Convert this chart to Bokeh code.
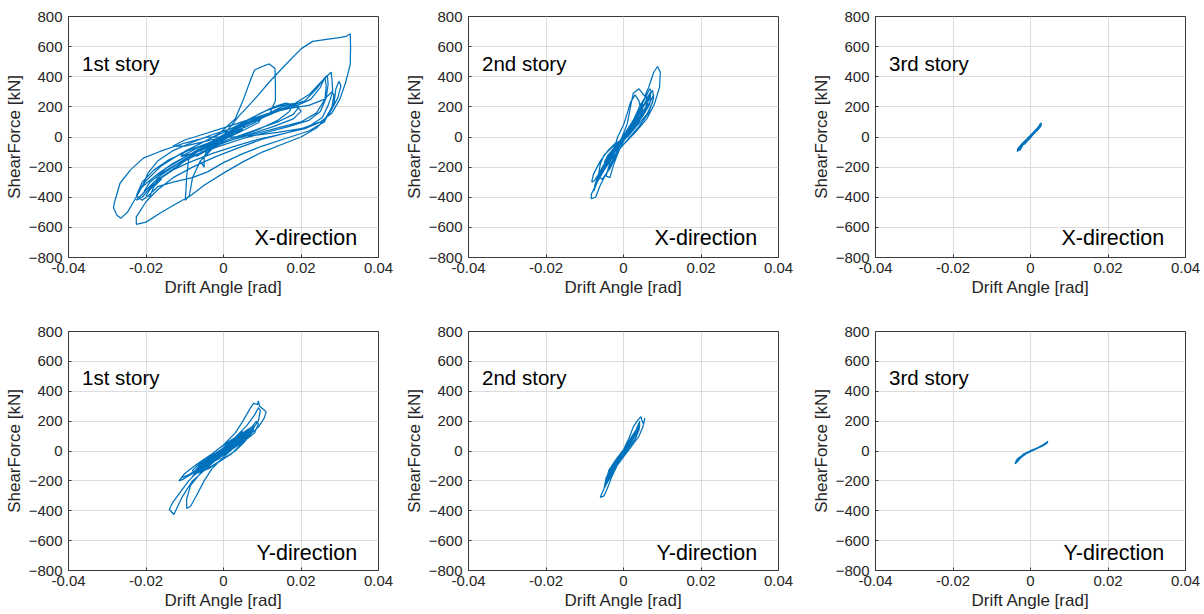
from bokeh.plotting import figure
from bokeh.layouts import column, row
from bokeh.models import FixedTicker, CustomJSTickFormatter, Label
from bokeh.embed import file_html
from bokeh.resources import INLINE

# ---------------- data ----------------
x_ticks = [-0.04, -0.02, 0, 0.02, 0.04]
y_ticks = [-800, -600, -400, -200, 0, 200, 400, 600, 800]
x_label = "Drift Angle [rad]"
y_label = "ShearForce [kN]"

# 1st story, X-direction
drift_1x = [
    0.000, 0.003, 0.006, 0.005, 0.001, -0.003, -0.006, -0.005, -0.001, 0.004,
    0.008, 0.010, 0.009, 0.004, -0.002, -0.007, -0.011, -0.010, -0.005, 0.000,
    0.006, 0.011, 0.015, 0.018, 0.0195, 0.018, 0.014, 0.008, 0.002, -0.004,
    -0.009, -0.013, -0.017, -0.0205, -0.0215, -0.020, -0.016, -0.011, -0.006, -0.001,
    0.003, 0.005, 0.007, 0.008, 0.010, 0.0118, 0.0133, 0.0134, 0.0134, 0.012,
    0.008, 0.003, -0.002, -0.006, -0.009, -0.0095, -0.0097, -0.0099, -0.0088, -0.008,
    -0.006, -0.003, 0.000, 0.004, 0.008, 0.012, 0.016, 0.020, 0.023, 0.027,
    0.030, 0.0318, 0.0327, 0.0328, 0.0327, 0.0315, 0.030, 0.028, 0.025, 0.020,
    0.014, 0.008, 0.002, -0.004, -0.010, -0.0164, -0.0207, -0.024, -0.0267, -0.0282,
    -0.0284, -0.0275, -0.0265, -0.0248, -0.0232, -0.021, -0.0195, -0.017, -0.013, -0.008,
    -0.003, 0.002, 0.008, 0.013, 0.018, 0.022, 0.025, 0.0265, 0.0278, 0.028,
    0.0282, 0.027, 0.0255, 0.022, 0.016, 0.010, 0.004, -0.002, -0.008, -0.013,
    -0.017, -0.020, -0.0225, -0.0225, -0.020, -0.016, -0.012, -0.0085, -0.005, 0.000,
    0.005, 0.010, 0.015, 0.020, 0.024, 0.027, 0.0295, 0.0303, 0.0298, 0.029,
    0.0285, 0.026, 0.021, 0.015, 0.009, 0.003, -0.003, -0.009, -0.014, -0.018,
    -0.021, -0.0225, -0.021, -0.019, -0.016, -0.012, -0.008, -0.003, 0.002, 0.008,
    0.013, 0.017, 0.021, 0.024, 0.026, 0.0268, 0.027, 0.0265, 0.025, 0.022,
    0.017, 0.011, 0.005, -0.001, -0.007, -0.012, -0.016, -0.019, -0.0205, -0.019,
    -0.016, -0.012, -0.007, -0.002, 0.004, 0.010, 0.015, 0.019, 0.0225, 0.025,
    0.0262, 0.0265, 0.0262, 0.024, 0.020, 0.014, 0.008, 0.002, -0.004, -0.008,
    -0.011, -0.008, -0.004, 0.000, 0.003, 0.006, 0.009, 0.012, 0.015, 0.017,
    0.019, 0.020, 0.018, 0.013, 0.007, 0.001, -0.004, -0.008, -0.011, -0.014,
    -0.017, -0.019, -0.020, -0.019, -0.018, -0.016, -0.0175, -0.015, -0.011, -0.007,
    -0.003, 0.001, 0.005, 0.009, 0.013, 0.016, 0.018, 0.017, 0.014, 0.009,
    0.004, -0.001, -0.005, -0.007, -0.006, -0.004, -0.005, -0.005, -0.006, -0.003,
    0.000, 0.003, 0.005, 0.003, 0.000, -0.003, -0.005, -0.002, 0.001, 0.004,
    0.002, 0.000, -0.004, -0.009, -0.014, -0.018, -0.021, -0.0225, -0.021, -0.019,
    -0.017, -0.013, -0.008, -0.004, 0.000, 0.005, 0.010, 0.016, 0.022, 0.026,
    0.028, 0.0285, 0.028, 0.026, 0.022, 0.017, 0.012, 0.006, 0.000, -0.005,
    -0.010, -0.013, -0.010, -0.005, 0.000,
]
shear_1x = [
    0, 45, 90, 60, 0, -50, -95, -60, 0, 70,
    120, 135, 95, 30, -40, -100, -130, -95, -30, 30,
    110, 175, 210, 222, 200, 150, 100, 45, -10, -65,
    -120, -175, -245, -320, -345, -290, -190, -110, -45, 25,
    120, 240, 380, 445, 468, 485, 455, 340, 240, 160,
    95, 35, -25, -80, -150, -260, -360, -420, -390, -270,
    -160, -70, 10, 140, 250, 370, 480, 585, 635, 650,
    660, 670, 685, 600, 480, 360, 250, 160, 100, 55,
    30, 10, 0, 0, -40, -96, -140, -218, -307, -440,
    -470, -520, -540, -500, -430, -330, -240, -160, -90, -35,
    15, 55, 105, 160, 215, 280, 360, 400, 430, 380,
    300, 210, 130, 70, 25, -15, -70, -130, -200, -270,
    -350, -430, -530, -580, -565, -500, -440, -390, -320, -240,
    -165, -100, -50, 0, 60, 140, 260, 340, 370, 320,
    220, 110, 55, 20, -15, -60, -110, -170, -230, -300,
    -380, -420, -400, -340, -270, -200, -120, -40, 40, 110,
    170, 205, 240, 320, 390, 410, 350, 260, 170, 110,
    70, 30, -10, -60, -120, -180, -240, -300, -360, -330,
    -250, -180, -100, -20, 60, 130, 180, 210, 250, 330,
    395, 340, 250, 160, 100, 60, 20, -20, -70, -110,
    -130, -90, -40, 0, 40, 70, 110, 160, 200, 215,
    205, 170, 120, 70, 20, -30, -80, -130, -175, -230,
    -290, -350, -390, -395, -330, -280, -270, -210, -150, -90,
    -30, 30, 90, 150, 200, 225, 215, 170, 110, 50,
    0, -50, -100, -130, -110, -80, -130, -200, -160, -80,
    -20, 20, 50, 30, -10, -50, -70, -30, 10, 50,
    30, 0, -40, -90, -150, -220, -300, -390, -420, -380,
    -330, -300, -270, -230, -170, -110, -60, -10, 40, 100,
    200, 280, 300, 250, 210, 190, 160, 110, 60, 20,
    -20, -60, -60, -30, 0,
]

# 2nd story, X-direction
drift_2x = [
    0.000, 0.002, 0.004, 0.005, 0.004, 0.001, -0.002, -0.004, -0.005, -0.004,
    -0.001, 0.002, 0.004, 0.006, 0.007, 0.0068, 0.005, 0.002, -0.001, -0.004,
    -0.006, -0.0068, -0.006, -0.004, -0.001, 0.001, 0.0018, 0.0025, 0.004, 0.0055,
    0.0065, 0.0078, 0.0088, 0.0095, 0.0093, 0.008, 0.006, 0.003, 0.000, -0.003,
    -0.005, -0.007, -0.0083, -0.0083, -0.0072, -0.006, -0.004, -0.002, 0.000, 0.003,
    0.005, 0.0068, 0.0075, 0.0078, 0.0065, 0.004, 0.001, -0.002, -0.005, -0.0073,
    -0.0077, -0.0068, -0.005, -0.003, 0.000, 0.0025, 0.0045, 0.006, 0.0058, 0.004,
    0.001, -0.002, -0.0035, -0.0045, -0.0035, -0.0025, -0.001, 0.001, 0.0035, 0.005,
    0.0045, 0.002, 0.000, 0.002, 0.004, 0.0055, 0.0065, 0.006, 0.004, 0.0015,
    -0.0015, -0.0035, -0.0055, -0.0062, -0.0055, -0.0035, -0.001, 0.0015, 0.0035, 0.005,
    0.0045, 0.0025, 0.000, -0.002, -0.004, -0.005, -0.0042, -0.0025, 0.000, 0.003,
    0.005, 0.0068, 0.0072, 0.006, 0.003, 0.000, -0.0025, -0.005, -0.0065, -0.0075,
    -0.007, -0.0055, -0.0035, -0.0015, 0.000, 0.002, 0.004, 0.006, 0.0075, 0.0078,
    0.007, 0.005, 0.003, 0.001, -0.002, -0.004, -0.006, -0.0078, -0.0082, -0.0075,
    -0.006, -0.004, -0.0025, -0.0015, 0.000, 0.001, 0.0018, 0.003, 0.004, 0.0045,
    0.004, 0.002, -0.001, -0.003, -0.005, -0.006, -0.0065, -0.0055, -0.0035, -0.002,
    -0.001, 0.000,
]
shear_2x = [
    0, 60, 130, 170, 120, 30, -60, -130, -170, -120,
    -30, 70, 160, 240, 290, 220, 140, 40, -50, -150,
    -240, -290, -230, -140, -40, 90, 200, 290, 320, 270,
    330, 430, 468, 430, 330, 220, 120, 30, -50, -140,
    -220, -310, -380, -410, -400, -320, -220, -110, -10, 100,
    200, 290, 310, 260, 160, 70, -20, -110, -210, -320,
    -360, -300, -200, -100, 10, 110, 220, 280, 200, 110,
    20, -80, -170, -260, -270, -180, -80, 20, 150, 220,
    150, 50, 0, 70, 150, 220, 260, 200, 110, 20,
    -70, -150, -230, -270, -210, -120, -30, 60, 140, 190,
    140, 70, -10, -90, -160, -200, -160, -80, 0, 120,
    230, 320, 300, 210, 80, -20, -100, -180, -250, -330,
    -310, -230, -130, -50, 0, 40, 90, 150, 230, 280,
    240, 150, 60, 0, -40, -90, -160, -250, -300, -290,
    -230, -160, -80, 0, 80, 160, 230, 280, 240, 170,
    100, 30, -30, -70, -120, -180, -260, -280, -210, -130,
    -50, 0,
]

# 3rd story, X-direction
drift_3x = [
    0.000, 0.0008, 0.0016, 0.0013, 0.0002, -0.0008, -0.0016, -0.0013, 0.000, 0.0012,
    0.002, 0.0026, 0.0028, 0.0027, 0.0018, 0.0005, -0.0008, -0.002, -0.003, -0.0034,
    -0.0033, -0.0024, -0.001, 0.0005, 0.0018, 0.0024, 0.0022, 0.001, -0.0005, -0.0018,
    -0.0027, -0.0022, -0.001, 0.000, 0.001, 0.0022, 0.0025, 0.002, 0.0008, -0.0006,
    -0.0018, -0.003, -0.0031, -0.0027, -0.0015, 0.000, 0.0015, 0.0027, 0.0024, 0.0012,
    -0.0002, -0.0015, -0.0028, -0.0025, -0.001, 0.000,
]
shear_3x = [
    0, 25, 50, 35, 5, -25, -50, -38, -5, 35,
    62, 85, 95, 72, 45, 15, -22, -55, -80, -98,
    -78, -50, -15, 25, 60, 80, 58, 25, -15, -48,
    -72, -52, -22, 0, 35, 70, 88, 65, 28, -15,
    -45, -85, -92, -70, -40, 5, 50, 90, 72, 38,
    0, -35, -90, -65, -25, 0,
]

# 1st story, Y-direction
drift_1y = [
    0.000, 0.002, 0.004, 0.005, 0.004, 0.001, -0.002, -0.004, -0.005, -0.004,
    -0.001, 0.002, 0.004, 0.0055, 0.005, 0.002, -0.001, -0.004, -0.006, -0.0055,
    -0.003, 0.000, 0.003, 0.005, 0.006, 0.0055, 0.003, 0.000, -0.003, -0.006,
    -0.0075, -0.007, -0.004, -0.001, 0.003, 0.006, 0.008, 0.009, 0.0095, 0.009,
    0.007, 0.004, 0.000, -0.004, -0.008, -0.0105, -0.0115, -0.010, -0.007, -0.003,
    0.000, 0.003, 0.005, 0.007, 0.0078, 0.0088, 0.009, 0.0093, 0.0105, 0.011,
    0.0105, 0.009, 0.006, 0.002, -0.002, -0.006, -0.009, -0.011, -0.013, -0.014,
    -0.0135, -0.0128, -0.012, -0.0105, -0.008, -0.005, -0.002, 0.001, 0.004, 0.007,
    0.0085, 0.009, 0.008, 0.005, 0.001, -0.003, -0.006, -0.0085, -0.0095, -0.0095,
    -0.0085, -0.007, -0.005, -0.003, 0.000, 0.003, 0.006, 0.008, 0.0075, 0.005,
    0.002, -0.002, -0.005, -0.008, -0.011, -0.009, -0.006, -0.003, 0.000, 0.003,
    0.0055, 0.0045, 0.002, -0.001, -0.004, -0.003, 0.000, 0.002, 0.0045, 0.006,
    0.005, 0.002, -0.002, -0.005, -0.007, -0.006, -0.003, 0.001, 0.004, 0.0065,
    0.0055, 0.003, 0.000, -0.003, -0.0065, -0.008, -0.0065, -0.003, 0.001, 0.0035,
    0.006, 0.007, 0.0065, 0.004, 0.0005, -0.0035, -0.006, -0.005, -0.002, 0.0015,
    0.004, 0.0035, 0.0005, -0.002, -0.0045, -0.0035, -0.001, 0.002, 0.005, 0.003,
    0.000, -0.003, -0.001, 0.000, 0.002, 0.004, 0.006, 0.0065, 0.005, 0.002,
    -0.001, -0.004, -0.006, -0.0075, -0.006, -0.003, 0.000, 0.003, 0.005, 0.007,
    0.006, 0.003, 0.000, -0.003, -0.006, -0.008, -0.007, -0.004, -0.001, 0.002,
    0.004, 0.005, 0.003, 0.000, -0.003, -0.005, -0.004, -0.001, 0.000,
]
shear_1y = [
    0, 40, 80, 110, 70, 10, -50, -90, -110, -70,
    -10, 50, 100, 130, 90, 30, -30, -90, -140, -100,
    -40, 20, 80, 120, 140, 100, 40, -20, -80, -130,
    -160, -120, -60, 0, 90, 170, 240, 290, 270, 200,
    130, 60, -20, -90, -150, -190, -200, -150, -90, -20,
    40, 120, 200, 290, 320, 310, 335, 300, 275, 260,
    220, 160, 90, 20, -50, -120, -200, -270, -340, -390,
    -405, -425, -380, -300, -200, -130, -60, 10, 80, 150,
    200, 180, 120, 60, -10, -80, -150, -230, -320, -385,
    -370, -300, -200, -120, -40, 30, 100, 170, 130, 70,
    10, -60, -110, -150, -180, -160, -110, -60, -10, 50,
    100, 70, 20, -30, -80, -60, 0, 50, 100, 130,
    80, 20, -60, -110, -140, -90, -40, 30, 90, 150,
    110, 50, -10, -70, -140, -170, -120, -50, 20, 70,
    110, 160, 120, 60, 0, -80, -120, -80, -20, 40,
    100, 70, 10, -40, -100, -70, -10, 60, 130, 80,
    10, -50, -20, 0, 20, 60, 110, 140, 120, 70,
    20, -40, -90, -140, -140, -100, -50, 0, 50, 110,
    120, 90, 40, -20, -80, -130, -150, -120, -70, -20,
    30, 70, 60, 20, -30, -70, -90, -50, 0,
]

# 2nd story, Y-direction
drift_2y = [
    0.000, 0.001, 0.002, 0.0015, 0.000, -0.0012, -0.0022, -0.0018, 0.000, 0.0015,
    0.003, 0.0038, 0.0035, 0.002, 0.000, -0.002, -0.0035, -0.0042, -0.0038, -0.002,
    0.000, 0.0015, 0.0025, 0.0035, 0.0045, 0.0048, 0.0052, 0.0055, 0.005, 0.004,
    0.002, 0.000, -0.002, -0.0035, -0.0048, -0.0055, -0.006, -0.005, -0.004, -0.003,
    -0.0015, 0.000, 0.002, 0.0035, 0.0042, 0.004, 0.003, 0.001, -0.001, -0.003,
    -0.0045, -0.0042, -0.003, -0.001, 0.000, 0.0012, 0.0025, 0.0035, 0.003, 0.0015,
    -0.0005, -0.002, -0.0035, -0.0045, -0.004, -0.0025, -0.001, 0.0008, 0.0022, 0.0032,
    0.0042, 0.004, 0.003, 0.001, -0.001, -0.003, -0.0045, -0.005, -0.0048, -0.0035,
    -0.002, 0.000,
]
shear_2y = [
    0, 40, 80, 55, 5, -40, -80, -55, -5, 60,
    120, 160, 120, 60, -5, -70, -130, -170, -130, -60,
    10, 90, 160, 200, 230, 200, 180, 220, 160, 100,
    30, -40, -110, -180, -240, -280, -310, -300, -240, -170,
    -90, -20, 60, 130, 185, 140, 80, 10, -60, -140,
    -220, -200, -130, -50, 0, 50, 110, 150, 110, 50,
    -20, -80, -150, -200, -170, -100, -30, 40, 100, 140,
    200, 170, 110, 40, -30, -110, -180, -250, -220, -150,
    -80, 0,
]

# 3rd story, Y-direction
drift_3y = [
    0.000, 0.001, 0.002, 0.0015, 0.000, -0.0012, -0.0022, -0.0018, 0.000, 0.0015,
    0.003, 0.004, 0.0045, 0.0042, 0.003, 0.001, -0.001, -0.0025, -0.0035, -0.004,
    -0.0035, -0.0025, -0.001, 0.001, 0.0025, 0.0035, 0.0032, 0.002, 0.000, -0.002,
    -0.003, -0.0025, -0.001, 0.000, 0.0012, 0.0028, 0.004, 0.0044, 0.0038, 0.002,
    0.0005, -0.001, -0.002, -0.0032, -0.0038, -0.0036, -0.003, -0.0018, 0.000, 0.0018,
    0.003, 0.0042, 0.0035, 0.002, 0.000,
]
shear_3y = [
    0, 10, 22, 14, 0, -15, -30, -20, 2, 18,
    35, 55, 65, 50, 32, 8, -15, -35, -60, -85,
    -75, -45, -15, 12, 30, 45, 35, 20, -5, -30,
    -50, -40, -12, 0, 15, 32, 52, 60, 44, 25,
    5, -12, -28, -48, -70, -78, -55, -28, -2, 22,
    38, 58, 42, 22, 0,
]

story_names = ["1st story", "2nd story", "3rd story"]
direction_names = ["X-direction", "Y-direction"]

# ---------------- styling / layout ----------------
LINE_COLOR = "#0072BD"
FONT = "Liberation Sans"
TEXT_DARK = "#262626"

col_borders = [(68, 23), (65, 27), (70, 21)]
row_borders = [(16, 241, 50), (24, 239, 44)]


def make_panel(drift, shear, story, direction, col, rw):
    bl, br = col_borders[col]
    bt, fh, bb = row_borders[rw]
    p = figure(frame_width=310, frame_height=fh,
               x_range=(-0.04, 0.04), y_range=(-800, 800),
               output_backend="svg", toolbar_location=None,
               min_border_left=bl, min_border_right=br,
               min_border_top=bt, min_border_bottom=bb,
               background_fill_color="white", border_fill_color="white")
    p.line(x=drift, y=shear, line_color=LINE_COLOR, line_width=1.25)

    p.xaxis.ticker = FixedTicker(ticks=x_ticks)
    p.yaxis.ticker = FixedTicker(ticks=y_ticks)
    p.xaxis.formatter = CustomJSTickFormatter(
        code="return tick === 0 ? '0' : tick.toFixed(2);")
    p.xaxis.axis_label = x_label
    p.yaxis.axis_label = y_label

    for ax in (p.xaxis[0], p.yaxis[0]):
        ax.axis_line_color = "#3a3a3a"
        ax.major_tick_in = 3
        ax.major_tick_out = 0
        ax.major_tick_line_color = "#3a3a3a"
        ax.minor_tick_line_color = None
        ax.major_label_text_font = FONT
        ax.major_label_text_font_size = "15px"
        ax.major_label_text_color = TEXT_DARK
        ax.axis_label_text_font = FONT
        ax.axis_label_text_font_size = "17px"
        ax.axis_label_text_font_style = "normal"
        ax.axis_label_text_color = TEXT_DARK
    p.xaxis.major_label_standoff = 5
    p.xaxis.axis_label_standoff = 2
    p.yaxis.major_label_standoff = 6
    p.yaxis.axis_label_standoff = 2

    p.grid.grid_line_color = "#dcdcdc"
    p.grid.grid_line_width = 1
    p.outline_line_color = "#3a3a3a"
    p.outline_line_width = 1
    p.outline_line_alpha = 1

    p.add_layout(Label(x=-0.0365, y=490, text=story, text_font=FONT,
                       text_font_size="20.5px", text_color="black",
                       text_baseline="middle", text_align="left"))
    p.add_layout(Label(x=0.0345, y=-668 if rw == 0 else -680, text=direction,
                       text_font=FONT, text_font_size="21.5px", text_color="black",
                       text_baseline="middle", text_align="right"))
    return p


top = row(
    make_panel(drift_1x, shear_1x, story_names[0], direction_names[0], 0, 0),
    make_panel(drift_2x, shear_2x, story_names[1], direction_names[0], 1, 0),
    make_panel(drift_3x, shear_3x, story_names[2], direction_names[0], 2, 0),
)
bottom = row(
    make_panel(drift_1y, shear_1y, story_names[0], direction_names[1], 0, 1),
    make_panel(drift_2y, shear_2y, story_names[1], direction_names[1], 1, 1),
    make_panel(drift_3y, shear_3y, story_names[2], direction_names[1], 2, 1),
)
layout = column(top, bottom)

open("out.html", "w").write(file_html(layout, INLINE))
